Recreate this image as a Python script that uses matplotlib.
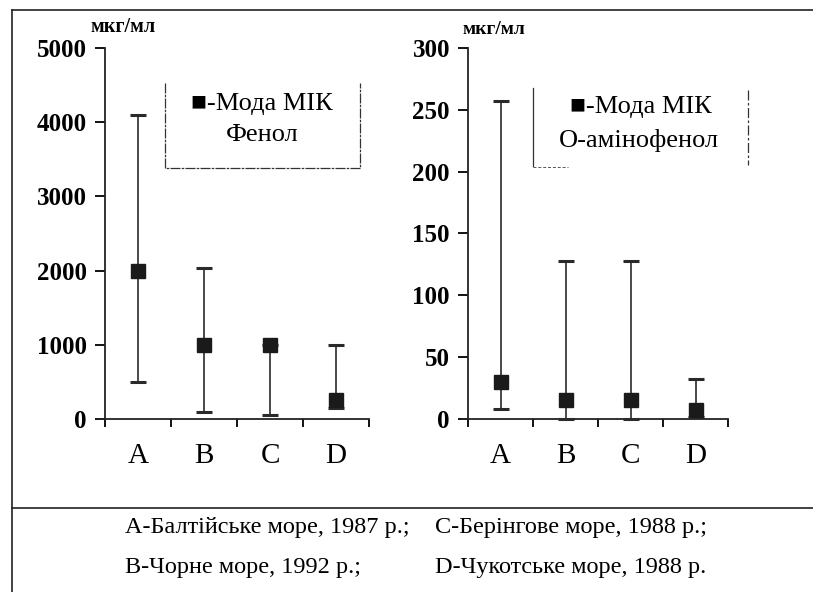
import numpy as np
import matplotlib
matplotlib.use("Agg")
import matplotlib.pyplot as plt
from matplotlib.lines import Line2D

plt.rcParams['font.family'] = ['Liberation Serif', 'DejaVu Serif']

# Дані: мода МІК та межі (мін / макс), мкг/мл
categories = ['A', 'B', 'C', 'D']

phenol_mode = [2000, 1000, 1000, 250]
phenol_min = [500, 100, 50, 150]
phenol_max = [4100, 2030, 1000, 1000]

aminophenol_mode = [30, 15, 15, 7]
aminophenol_min = [8, 0, 0, 2]
aminophenol_max = [257, 128, 128, 32]

caption = [
    ("А-Балтійське море, 1987 р.;", "С-Берінгове море, 1988 р.;"),
    ("В-Чорне море, 1992 р.;", "D-Чукотське море, 1988 р."),
]

fig = plt.figure(figsize=(8.13, 5.92), dpi=100)
W, H = 813, 592


def fx(px):
    return px / W


def fy(py):
    return 1 - py / H


def panel(rect, mode, lo, hi, ymax, step):
    ax = fig.add_axes(rect)
    x = np.arange(len(categories))
    mode = np.array(mode)
    yerr = [mode - np.array(lo), np.array(hi) - mode]
    ax.errorbar(x, mode, yerr=yerr, fmt='s', color='#1a1a1a', ecolor='#2a2a2a',
                elinewidth=1.2, capsize=5.5, capthick=2.2, markersize=10.5, zorder=3,
                clip_on=False)
    ax.set_xlim(-0.5, len(categories) - 0.5)
    ax.set_ylim(0, ymax)
    for s in ['top', 'right']:
        ax.spines[s].set_visible(False)
    for s in ['left', 'bottom']:
        ax.spines[s].set_linewidth(1.3)
        ax.spines[s].set_color('#222222')
    ticks = np.arange(0, ymax + 1, step)
    ax.set_yticks(ticks)
    ax.set_yticklabels([str(v) for v in ticks], fontsize=18, fontweight='bold')
    ax.set_xticks(np.arange(-0.5, len(categories), 1.0))
    ax.set_xticklabels([])
    ax.set_xticks(x, minor=True)
    ax.set_xticklabels(categories, minor=True, fontsize=21)
    ax.tick_params(axis='x', which='major', direction='out', length=6, width=1.3)
    ax.tick_params(axis='x', which='minor', length=0, pad=17)
    ax.tick_params(axis='y', direction='out', length=7, width=1.3, pad=6)
    ax.spines['bottom'].set_bounds(-0.5 - 0.1, len(categories) - 0.5)
    return ax


panel([fx(105), fy(419), fx(369) - fx(105), fy(48) - fy(419)],
      phenol_mode, phenol_min, phenol_max, 5000, 1000)
panel([fx(468), fy(419), fx(728) - fx(468), fy(48) - fy(419)],
      aminophenol_mode, aminophenol_min, aminophenol_max, 300, 50)

# підписи одиниць
fig.text(fx(90), fy(27), 'мкг/мл', fontsize=14.5, fontweight='bold', va='center')
fig.text(fx(463), fy(30), 'мкг/мл', fontsize=14, fontweight='bold', va='center')

# легенди
fig.add_artist(Line2D([fx(165), fx(165), fx(360), fx(360)],
                      [fy(83), fy(168), fy(168), fy(83)],
                      color='#333333', lw=0.9, linestyle=(0, (8, 1, 2, 1))))
fig.text(fx(262), fy(104), '■-Мода МІК', fontsize=19, ha='center', va='center')
fig.text(fx(262), fy(135), 'Фенол', fontsize=19, ha='center', va='center')

fig.add_artist(Line2D([fx(533), fx(533)], [fy(88), fy(166)], color='#333333', lw=0.9))
fig.add_artist(Line2D([fx(533), fx(568)], [fy(167), fy(167)], color='#555555', lw=0.7,
                      linestyle=(0, (3, 2))))
fig.add_artist(Line2D([fx(748), fx(748)], [fy(90), fy(165)], color='#333333', lw=0.9,
                      linestyle=(0, (8, 2, 2, 2))))
fig.text(fx(641), fy(107), '■-Мода МІК', fontsize=19, ha='center', va='center')
fig.text(fx(639), fy(140), 'О-амінофенол', fontsize=19, ha='center', va='center')

# рамка
fig.add_artist(Line2D([fx(12), fx(12)], [fy(10), 0], color='#222222', lw=1.2))
fig.add_artist(Line2D([fx(12), 1], [fy(10), fy(10)], color='#222222', lw=1.2))
fig.add_artist(Line2D([fx(12), 1], [fy(508), fy(508)], color='#222222', lw=1.2))

# підпис
for row, (left, right) in enumerate(caption):
    yy = fy(528 + row * 39)
    fig.text(fx(125), yy, left, fontsize=17.5, va='center')
    fig.text(fx(435), yy, right, fontsize=17.5, va='center')

fig.savefig('out.png', dpi=100)
